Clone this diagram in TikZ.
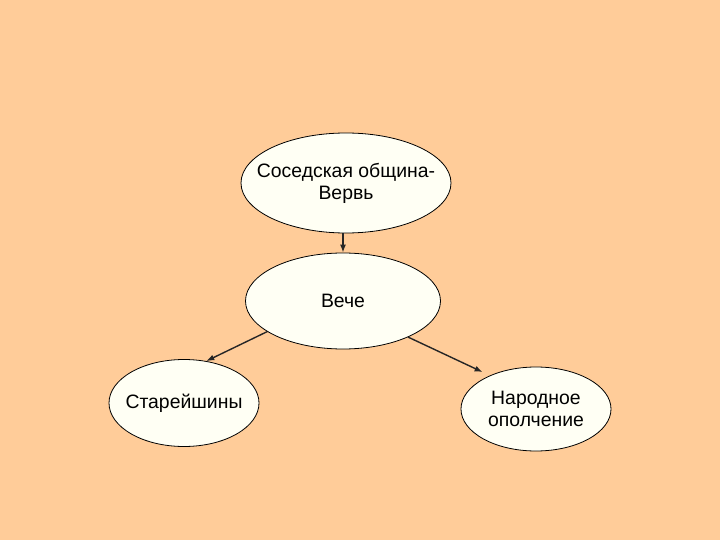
\documentclass[tikz,border=0pt]{standalone}
\usepackage{fontspec}
\setmainfont{Liberation Sans}
\usetikzlibrary{shapes.geometric,arrows.meta}
\definecolor{peach}{HTML}{FFCC99}
\definecolor{cream}{HTML}{FFFFF4}
\begin{document}
\begin{tikzpicture}[x=1pt,y=-1pt,
    oval/.style={ellipse,draw=black,line width=0.8pt,fill=cream,inner sep=0pt},
    txt/.style={align=center,inner sep=0pt,font=\fontsize{19.4}{22}\selectfont},
    link/.style={line width=1.4pt,draw=black!85,-{Latex[length=8pt,width=6pt]}}]
\fill[peach] (0,0) rectangle (720,540);
\node[oval,minimum width=210pt,minimum height=100pt,label={[txt]center:Соседская община-\\Вервь}] (verv) at (346,183) {};
\node[oval,minimum width=195pt,minimum height=96pt,label={[txt]center:Вече}] (veche) at (343,301) {};
\node[oval,minimum width=150pt,minimum height=87pt,label={[txt]center:Старейшины}] (elders) at (184,403) {};
\node[oval,minimum width=150pt,minimum height=84pt,label={[txt]center:Народное\\ополчение}] (militia) at (536,409) {};
\draw[link] (verv.south -| veche.north) -- (veche.north);
\draw[link] (veche.202) -- (elders.62);
\draw[link,shorten >=8pt] (veche.-29) -- (militia.144);
\end{tikzpicture}
\end{document}
